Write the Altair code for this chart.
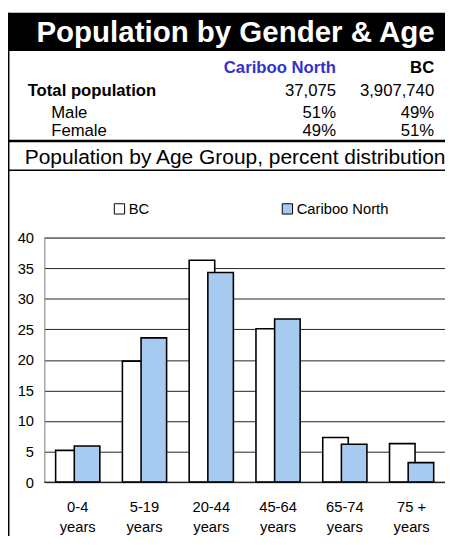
import altair as alt
import pandas as pd

# ---- data ----
age_groups = ["0-4 years", "5-19 years", "20-44 years", "45-64 years", "65-74 years", "75 + years"]
bc_values = [5.2, 19.8, 36.3, 25.1, 7.3, 6.3]
cariboo_values = [5.9, 23.6, 34.3, 26.7, 6.2, 3.2]
series_names = ["BC", "Cariboo North"]
series_colors = ["#FFFFFF", "#A6CAF0"]

title_text = "Population by Gender & Age"
subtitle_text = "Population by Age Group, percent distribution"
table_header = ["Cariboo North", "BC"]
table_rows = ["Total population", "Male", "Female"]
table_cariboo = ["37,075", "51%", "49%"]
table_bc = ["3,907,740", "49%", "51%"]

FONT = "Liberation Sans"
W, H = 408, 249

rows = []
for i, g in enumerate(age_groups):
    rows.append({"age": g, "series": "BC", "value": bc_values[i]})
    rows.append({"age": g, "series": "Cariboo North", "value": cariboo_values[i]})
df = pd.DataFrame(rows)

label_expr = ("[substring(datum.label, 0, lastindexof(datum.label, ' ')), "
              "substring(datum.label, lastindexof(datum.label, ' ') + 1)]")

xenc = alt.X("age:N", sort=age_groups, title=None,
             scale=alt.Scale(paddingInner=0, paddingOuter=0),
             axis=alt.Axis(labelExpr=label_expr, labelAngle=0,
                           labelFontSize=15, labelFont=FONT, labelColor="#000",
                           labelPadding=18, labelLineHeight=20,
                           ticks=False, domain=False, grid=False))
yenc = alt.Y("value:Q", title=None,
             scale=alt.Scale(domain=[0, 40], nice=False),
             axis=alt.Axis(values=[0, 5, 10, 15, 20, 25, 30, 35, 40],
                           labelFontSize=15, labelFont=FONT, labelColor="#000",
                           labelPadding=11, ticks=False,
                           domainColor="#888", gridColor="#222", gridWidth=1))
color = alt.Color("series:N", title=None,
                  scale=alt.Scale(domain=series_names, range=series_colors),
                  legend=alt.Legend(orient="none", legendX=69, legendY=-37,
                                    direction="horizontal", symbolType="square",
                                    symbolSize=110, symbolStrokeColor="#000",
                                    symbolStrokeWidth=1, labelFontSize=15,
                                    labelFont=FONT, labelColor="#000",
                                    labelOffset=2, columnPadding=133))

base = alt.Chart(df)
bars_bc = base.transform_filter(alt.datum.series == "BC").mark_bar(
    width=26, xOffset=-9.5, stroke="#000", strokeWidth=1.6
).encode(x=xenc, y=yenc, color=color)
bars_cn = base.transform_filter(alt.datum.series == "Cariboo North").mark_bar(
    width=26, xOffset=9.5, stroke="#000", strokeWidth=1.6
).encode(x=xenc, y=yenc, color=color)

one = pd.DataFrame({"a": [0]})
topline = alt.Chart(one).mark_rule(color="#888", strokeWidth=1).encode(
    x=alt.value(0), x2=alt.value(W), y=alt.value(0))
zeroline = alt.Chart(one).mark_rule(color="#111", strokeWidth=1).encode(
    x=alt.value(0), x2=alt.value(W), y=alt.value(H))

# header decorations (pixel offsets relative to plot origin at page 45,237)
band = alt.Chart(one).mark_rect(color="#000").encode(
    x=alt.value(-37), x2=alt.value(W), y=alt.value(-229), y2=alt.value(-190))
leftborder = alt.Chart(one).mark_rule(color="#000", strokeWidth=2).encode(
    x=alt.value(-36.5), y=alt.value(-229), y2=alt.value(H + 60))
line1 = alt.Chart(one).mark_rule(color="#000", strokeWidth=2.5).encode(
    x=alt.value(-37), x2=alt.value(W), y=alt.value(-98.5))
line2 = alt.Chart(one).mark_rule(color="#000", strokeWidth=1.5).encode(
    x=alt.value(-37), x2=alt.value(W), y=alt.value(-68.5))


def txt(s, x, y, size=17, bold=False, align="left", color="#000"):
    return alt.Chart(pd.DataFrame({"t": [s]})).mark_text(
        align=align, baseline="alphabetic", font=FONT, fontSize=size,
        fontWeight="bold" if bold else "normal", color=color
    ).encode(text="t:N", x=alt.value(x), y=alt.value(y))


row_y = [-144, -121.5, -103.5]
texts = [
    txt(title_text, -8, -199, size=30, bold=True, color="#FFFFFF"),
    txt(table_header[0], 297, -168, bold=True, align="right", color="#3333CC"),
    txt(table_header[1], 397, -168, bold=True, align="right"),
    txt(table_rows[0], -17, row_y[0], bold=True),
    txt(table_rows[1], 7, row_y[1]),
    txt(table_rows[2], 7, row_y[2]),
    txt(subtitle_text, -20, -75, size=21.3),
]
for i in range(3):
    texts.append(txt(table_cariboo[i], 297, row_y[i], align="right"))
    texts.append(txt(table_bc[i], 397, row_y[i], align="right"))

chart = alt.layer(band, leftborder, line1, line2, topline, bars_bc, bars_cn, zeroline, *texts).properties(
    width=W, height=H,
    autosize=alt.AutoSizeParams(type="none"),
    padding={"left": 37, "top": 229, "right": 0, "bottom": 50},
).configure_view(stroke=None).configure(background="#FFFFFF")

chart.save("out.html", embed_options={"renderer": "svg", "actions": False})
